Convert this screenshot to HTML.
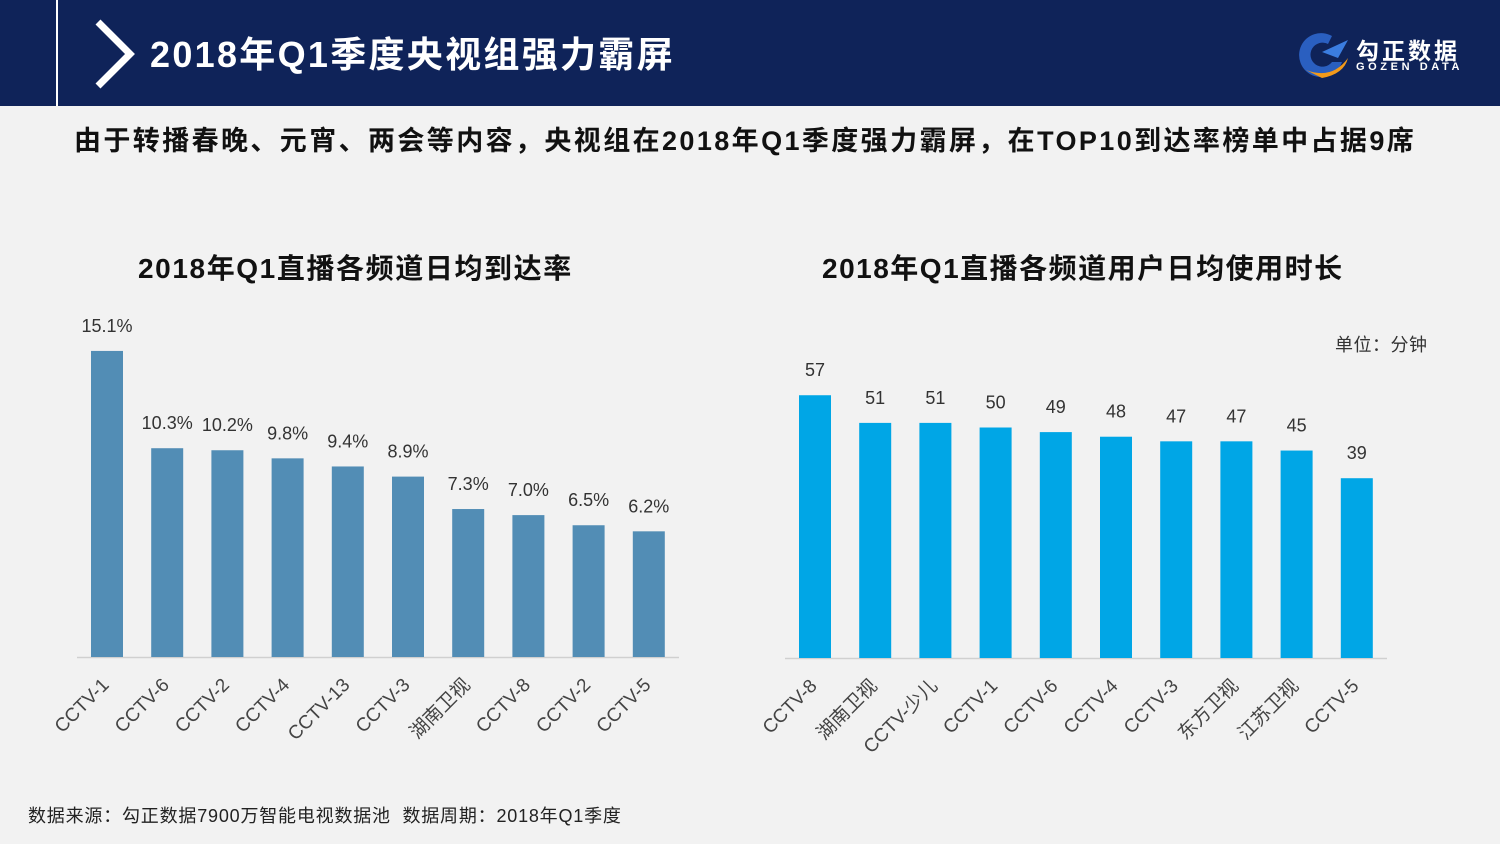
<!DOCTYPE html>
<html><head><meta charset="utf-8">
<style>
body{margin:0;width:1500px;height:844px;background:#f2f2f2;overflow:hidden;font-family:"Liberation Sans","Noto Sans CJK SC",sans-serif;position:relative}
.hdr{position:absolute;left:0;top:0;width:1500px;height:106px;background:#0f2359}
.t{position:absolute;font-weight:bold;color:#111;white-space:nowrap}
</style></head><body>
<div class="hdr"></div>
<div style="position:absolute;left:56px;top:0;width:2px;height:106px;background:#fff"></div>
<svg style="position:absolute;left:90px;top:18px" width="50" height="72"><polyline points="8,4 40,36 8,68" fill="none" stroke="#fff" stroke-width="7"/></svg>
<div class="t" style="left:150px;top:26px;font-size:36px;color:#fff;letter-spacing:2.3px">2018年Q1季度央视组强力霸屏</div>
<svg style="position:absolute;left:1292px;top:30px" width="60" height="50"><path d="M40,6 A22,22 0 1 0 50,32 L40,32 A12,12 0 1 1 36,14 Z" fill="#2a5fc0"/><path d="M30,22 L56,10 L46,28 Z" fill="#3b7de0"/><path d="M14,40 Q40,50 56,28 Q52,44 30,48 Z" fill="#f29a1a"/></svg>
<div style="position:absolute;left:1356px;top:32px;color:#fff;font-size:23px;font-weight:bold;letter-spacing:3px">勾正数据</div>
<div style="position:absolute;left:1356px;top:61px;color:#fff;font-size:11px;font-weight:bold;letter-spacing:3.6px">GOZEN DATA</div>
<div class="t" style="left:74px;top:119px;font-size:27px;letter-spacing:2.4px">由于转播春晚、元宵、两会等内容，央视组在2018年Q1季度强力霸屏，在TOP10到达率榜单中占据9席</div>
<div class="t" style="left:138px;top:247px;font-size:28px;letter-spacing:1.6px">2018年Q1直播各频道日均到达率</div>
<div class="t" style="left:822px;top:247px;font-size:28px;letter-spacing:1.5px">2018年Q1直播各频道用户日均使用时长</div>
<div style="position:absolute;left:1335px;top:331px;font-size:18px;color:#333;letter-spacing:0.5px">单位：分钟</div>
<div style="position:absolute;left:28px;top:802px;font-size:18px;color:#222;letter-spacing:0.8px;white-space:nowrap">数据来源：勾正数据7900万智能电视数据池&nbsp;&nbsp;数据周期：2018年Q1季度</div>
<svg id="c" style="position:absolute;left:0;top:0" width="1500" height="844"></svg>
<script>
const leftCats=["CCTV-1","CCTV-6","CCTV-2","CCTV-4","CCTV-13","CCTV-3","湖南卫视","CCTV-8","CCTV-2","CCTV-5"];
const leftVals=[15.1,10.3,10.2,9.8,9.4,8.9,7.3,7.0,6.5,6.2];
const rightCats=["CCTV-8","湖南卫视","CCTV-少儿","CCTV-1","CCTV-6","CCTV-4","CCTV-3","东方卫视","江苏卫视","CCTV-5"];
const rightVals=[57,51,51,50,49,48,47,47,45,39];
const svg=document.getElementById('c');
const NS='http://www.w3.org/2000/svg';
function mk(tag,attrs){const e=document.createElementNS(NS,tag);for(const k in attrs)e.setAttribute(k,attrs[k]);svg.appendChild(e);return e;}
function chart(cats,vals,opt){
  const xPos=i=>opt.x0+i*60.2;
  const yPos=v=>opt.base-v*opt.scale;
  const ax=mk('line',{x1:opt.ax0,x2:opt.ax1,y1:opt.base+0.5,y2:opt.base+0.5,stroke:'#d0d0d0','stroke-width':1.5});
  
  
  vals.forEach((v,i)=>{
    const r=mk('rect',{x:xPos(i)-16,y:yPos(v),width:32,height:opt.base-yPos(v),fill:opt.color});
    
    
    const t=mk('text',{x:xPos(i),y:yPos(v)-19,'text-anchor':'middle','font-size':18,fill:'#333'});
    t.textContent=opt.fmt(v);
    
    
    const cx=xPos(i)+3, cy=opt.base+29;
    const c=mk('text',{x:cx,y:cy,'text-anchor':'end','font-size':19,fill:'#444',transform:`rotate(-45 ${cx} ${cy})`});
    c.textContent=cats[i];
    
    
  });
}
chart(leftCats,leftVals,{x0:107,base:657,scale:20.27,ax0:77,ax1:679,color:'#528db5',name:'reach',fmt:v=>v.toFixed(1)+'%'});
chart(rightCats,rightVals,{x0:815,base:658,scale:4.61,ax0:785,ax1:1387,color:'#00a6e6',name:'duration',fmt:v=>String(v)});
</script>
</body></html>
